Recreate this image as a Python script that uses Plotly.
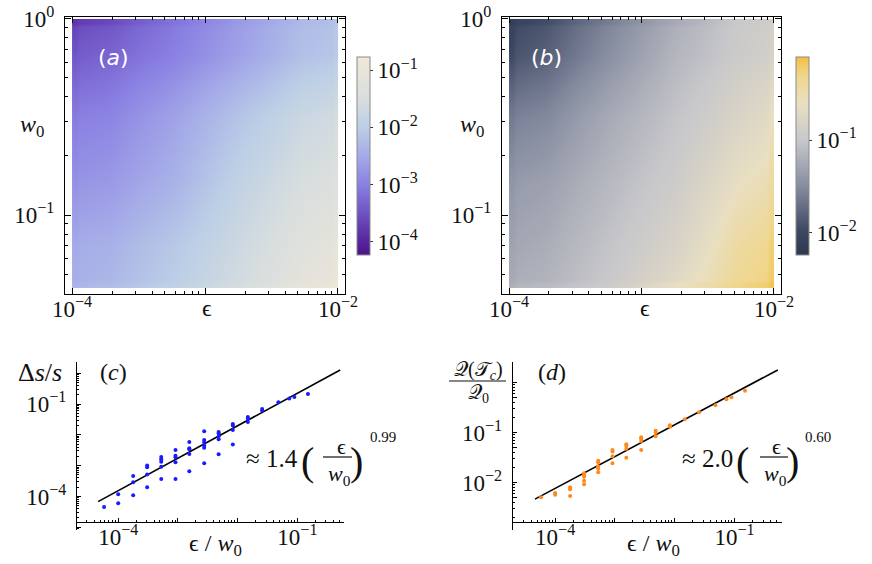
import numpy as np
import plotly.graph_objects as go

W, H = 872, 564
FONT = "Liberation Serif"

# ---------------- data ----------------
# heatmap grids (log10 units); cell edges, values at cell centres
eps_edges = [-4.0, -3.95, -3.5, -3.0, -2.5, -2.05, -2.0]     # log10(epsilon)
w0_edges = [-1.37, -1.33, -1.0, -0.67, -0.33, -0.04, 0.0]    # log10(w0)

# panel (a): log10(Delta s / s), rows from small w0 to large w0
z_a = [
    [-2.40, -2.25, -1.95, -1.55, -1.05, -0.80],
    [-2.50, -2.40, -2.10, -1.70, -1.25, -1.00],
    [-2.80, -2.70, -2.40, -1.90, -1.50, -1.30],
    [-3.05, -2.95, -2.60, -2.15, -1.75, -1.55],
    [-3.45, -3.30, -3.00, -2.60, -2.20, -2.05],
    [-3.85, -3.60, -3.15, -2.70, -2.30, -2.15],
]
# panel (b): log10(Q(Tc)/Q0)
z_b = [
    [-1.20, -1.12, -0.95, -0.62, -0.30, -0.15],
    [-1.30, -1.22, -1.03, -0.82, -0.42, -0.24],
    [-1.42, -1.33, -1.13, -0.93, -0.62, -0.42],
    [-1.62, -1.52, -1.25, -1.03, -0.80, -0.60],
    [-1.97, -1.80, -1.47, -1.15, -0.95, -0.82],
    [-2.12, -1.95, -1.60, -1.25, -0.98, -0.88],
]

# scatter panels: epsilon / w0 columns
ratio_cols = [5.8e-5, 1.0e-4, 1.78e-4, 3.05e-4, 5.25e-4, 9.1e-4, 1.55e-3, 2.75e-3,
              4.8e-3, 8.3e-3, 1.48e-2, 2.57e-2, 4.8e-2, 7.3e-2, 8.9e-2, 1.5e-1]
ds_s = [
    [4.5e-5],
    [1.17e-4, 6.0e-5],
    [4.6e-4, 2.9e-4, 1.1e-4],
    [1.02e-3, 8.9e-4, 5.2e-4, 2.0e-4],
    [1.9e-3, 1.62e-3, 1.35e-3, 9.3e-4, 3.7e-4],
    [3.2e-3, 2.1e-3, 1.86e-3, 1.29e-3, 3.7e-4],
    [5.9e-3, 3.7e-3, 3.4e-3, 2.4e-3, 6.6e-4],
    [1.32e-2, 6.8e-3, 5.75e-3, 4.5e-3, 3.8e-3, 1.2e-3],
    [1.23e-2, 1.12e-2, 9.1e-3, 7.2e-3, 2.34e-3],
    [2.24e-2, 2.0e-2, 1.45e-2, 4.9e-3],
    [3.8e-2, 3.4e-2, 2.6e-2],
    [6.9e-2, 6.2e-2],
    [0.115],
    [0.151],
    [0.17],
    [0.214],
]
q_ratio = [
    [5.1e-3],
    [6.2e-3, 5.75e-3],
    [8.1e-3, 7.4e-3, 5.4e-3],
    [1.55e-2, 1.41e-2, 1.32e-2, 1.1e-2, 9.3e-3],
    [2.75e-2, 2.57e-2, 2.14e-2, 1.9e-2, 1.62e-2],
    [4.5e-2, 4.2e-2, 3.4e-2, 2.45e-2],
    [5.9e-2, 5.5e-2, 4.8e-2, 3.16e-2],
    [8.1e-2, 7.6e-2, 6.8e-2, 4.5e-2],
    [0.11, 0.10, 0.085],
    [0.141, 0.132],
    [0.186],
    [0.257],
    [0.355],
    [0.468],
    [0.513],
    [0.69],
]
# fit lines (end points)
fit_c_x = [4.6e-5, 0.52]
fit_c_y = [6.8e-5, 1.28]
fit_d_x = [4.6e-5, 0.53]
fit_d_y = [4.7e-3, 1.8]

# ---------------- helpers ----------------
def px(x):
    return x / W


def py(y):
    return 1 - y / H


def sup(e):
    return "10<sup>%s</sup>" % (("\u2212%d" % -e) if e < 0 else str(e))


def flat(cols, vals):
    xs, ys = [], []
    for c, v in zip(cols, vals):
        for yy in v:
            xs.append(c)
            ys.append(yy)
    return xs, ys


cs_a = [
    [0.0, "#4a148a"], [0.066, "#57249c"], [0.211, "#6e52c4"], [0.355, "#8a80e2"],
    [0.5, "#a4aae8"], [0.645, "#bccfe6"], [0.789, "#d8dede"], [0.934, "#e8e4da"],
    [1.0, "#f0e8d8"],
]
cs_b = [
    [0.0, "#2e3850"], [0.111, "#3a4560"], [0.346, "#868ca0"], [0.581, "#c8c8cb"],
    [0.768, "#e9dfc2"], [0.909, "#f0d68a"], [1.0, "#f2c040"],
]

fig = go.Figure()

cb_common = dict(
    lenmode="pixels", len=198, thicknessmode="pixels", thickness=13,
    y=py(156), yanchor="middle", xanchor="left", xpad=0, ypad=0,
    outlinecolor="#8a8a8a", outlinewidth=1, ticks="outside", ticklen=3,
    tickcolor="#333", tickfont=dict(family=FONT, size=23, color="#111"),
)

fig.add_trace(go.Heatmap(
    x=eps_edges, y=w0_edges, z=z_a, zsmooth="best", colorscale=cs_a,
    zmin=-4.23, zmax=-0.77, xaxis="x", yaxis="y",
    colorbar=dict(x=px(357), tickvals=[-4, -3, -2, -1],
                  ticktext=[sup(e) for e in [-4, -3, -2, -1]], **cb_common),
    hoverinfo="skip",
))
fig.add_trace(go.Heatmap(
    x=eps_edges, y=w0_edges, z=z_b, zsmooth="best", colorscale=cs_b,
    zmin=-2.237, zmax=-0.107, xaxis="x2", yaxis="y2",
    colorbar=dict(x=px(796), tickvals=[-2, -1],
                  ticktext=[sup(e) for e in [-2, -1]], **cb_common),
    hoverinfo="skip",
))

xc, yc = flat(ratio_cols, ds_s)
xd, yd = flat(ratio_cols, q_ratio)
fig.add_trace(go.Scatter(x=fit_c_x, y=fit_c_y, mode="lines", xaxis="x3", yaxis="y3",
                         line=dict(color="black", width=1.6), showlegend=False))
fig.add_trace(go.Scatter(x=xc, y=yc, mode="markers", xaxis="x3", yaxis="y3",
                         marker=dict(color="#1a1aff", size=4), showlegend=False))
fig.add_trace(go.Scatter(x=fit_d_x, y=fit_d_y, mode="lines", xaxis="x4", yaxis="y4",
                         line=dict(color="black", width=1.6), showlegend=False))
fig.add_trace(go.Scatter(x=xd, y=yd, mode="markers", xaxis="x4", yaxis="y4",
                         marker=dict(color="#ff8a1a", size=4), showlegend=False))

# ---------------- axes ----------------
tickfont = dict(family=FONT, size=23, color="#111")
minor_x_top = [np.log10(k) + n for n in (-4, -3) for k in range(2, 10)]
minor_y_top = [np.log10(k) - 2 for k in range(4, 10)] + [np.log10(k) - 1 for k in range(2, 10)]

frame_x = dict(
    range=[-4.053, -1.947], showline=True, linecolor="black", linewidth=1.2, mirror="allticks",
    ticks="inside", ticklen=6, tickwidth=1, tickcolor="black",
    tickmode="array", tickvals=[-4, -3, -2], ticktext=[sup(-4), "", sup(-2)],
    minor=dict(tickmode="array", tickvals=minor_x_top, ticks="inside", ticklen=3,
               tickcolor="black", tickwidth=1),
    showgrid=False, zeroline=False, tickfont=tickfont, automargin=False,
    ticklabelstandoff=-6,
)
frame_y = dict(
    range=[-1.403, 0.010], showline=True, linecolor="black", linewidth=1.2, mirror="allticks",
    ticks="inside", ticklen=6, tickwidth=1, tickcolor="black",
    tickmode="array", tickvals=[-1, 0], ticktext=[sup(-1), sup(0)],
    minor=dict(tickmode="array", tickvals=minor_y_top, ticks="inside", ticklen=3,
               tickcolor="black", tickwidth=1),
    showgrid=False, zeroline=False, tickfont=tickfont, ticklabelstandoff=5, automargin=False,
)

dec_x = [10.0 ** n for n in range(-5, 0)]
minor_x_bot = [k * 10.0 ** n for n in range(-5, 0) for k in range(2, 10)]
dec_yc = [10.0 ** n for n in range(-5, 1)]
minor_yc = [k * 10.0 ** n for n in range(-6, 0) for k in range(2, 10)]
maj_yd = [5e-3, 1e-2, 5e-2, 1e-1, 5e-1, 1.0]
minor_yd = [k * 10.0 ** n for n in range(-3, 0) for k in (2, 3, 4, 6, 7, 8, 9)]


def bot_x(domain, rng):
    return dict(
        type="log", domain=domain, range=rng, anchor="free", position=py(522),
        showline=True, linecolor="black", linewidth=1.2, ticks="inside", ticklen=4,
        tickcolor="black", tickmode="array", tickvals=dec_x,
        ticktext=["" if v not in (1e-4, 1e-1) else sup(int(round(np.log10(v)))) for v in dec_x],
        minor=dict(tickmode="array", tickvals=minor_x_bot, ticks="inside", ticklen=2,
                   tickcolor="black"),
        showgrid=False, zeroline=False, tickfont=tickfont, automargin=False,
        ticklabelstandoff=-6,
    )


def bot_y(anchor, rng, maj, lab, mins):
    return dict(
        type="log", domain=[py(530), py(362)], range=rng, anchor=anchor,
        showline=True, linecolor="black", linewidth=1.2, ticks="inside", ticklen=4,
        tickcolor="black", tickmode="array", tickvals=maj,
        ticktext=[sup(int(round(np.log10(v)))) if v in lab else "" for v in maj],
        minor=dict(tickmode="array", tickvals=mins, ticks="inside", ticklen=2,
                   tickcolor="black"),
        showgrid=False, zeroline=False, tickfont=tickfont, ticklabelstandoff=5,
        automargin=False,
    )


fig.update_layout(
    width=W, height=H, margin=dict(l=0, r=0, t=0, b=0, autoexpand=False),
    paper_bgcolor="white", plot_bgcolor="white", showlegend=False,
    font=dict(family=FONT),
    xaxis=dict(domain=[px(65), px(345)], anchor="y", **frame_x),
    yaxis=dict(domain=[py(294), py(17)], anchor="x", **frame_y),
    xaxis2=dict(domain=[px(502), px(781)], anchor="y2", **frame_x),
    yaxis2=dict(domain=[py(294), py(17)], anchor="x2", **frame_y),
    xaxis3=bot_x([px(77), px(344)], [-4.69, -0.22]),
    yaxis3=bot_y("x3", [-5.09, 0.367], dec_yc, (1e-1, 1e-4), minor_yc),
    xaxis4=bot_x([px(512.7), px(781.7)], [-4.71, -0.21]),
    yaxis4=bot_y("x4", [-2.946, 0.414], maj_yd, (1e-2, 1e-1), minor_yd),
)

# ---------------- text ----------------
ann = []
shapes = []


def text(x, y, s, size=20, color="#111", xanchor="center", family=FONT):
    ann.append(dict(x=px(x), y=py(y), xref="paper", yref="paper", text=s, showarrow=False,
                    xanchor=xanchor, yanchor="middle",
                    font=dict(family=family, size=size, color=color)))


def hbar(x0, x1, y):
    shapes.append(dict(type="line", xref="paper", yref="paper", x0=px(x0), x1=px(x1),
                       y0=py(y), y1=py(y), line=dict(color="#111", width=1.2)))


EPS = "\u03f5"
W0 = "<i>w</i><sub>0</sub>"

# top panels
text(32, 126, W0, size=24)
text(472, 126, W0, size=24)
text(207, 308, EPS, size=24)
text(645, 308, EPS, size=24)
text(113, 57, "(<i>a</i>)", size=22, color="white", family="DejaVu Sans")
text(546, 57, "(<i>b</i>)", size=22, color="white", family="DejaVu Sans")

# panel c
text(40, 372, "\u0394<i>s</i>/<i>s</i>", size=26)
text(113, 372, "(<i>c</i>)", size=24)
text(215, 545, EPS + " / " + W0, size=24)
text(300, 458, "\u2248 1.4", size=25, xanchor="right")
text(307, 461, "(", size=40)
text(341, 446, EPS, size=22)
hbar(323, 352, 457)
text(339, 475, W0, size=22)
text(356, 461, ")", size=40)
text(383, 437, "0.99", size=15)

# panel d
text(478, 370, "\U0001D4AC(\U0001D4AF<sub><i>c</i></sub>)", size=20)
hbar(449, 506, 381)
text(478, 393, "\U0001D4AC<sub>0</sub>", size=20)
text(552, 372, "(<i>d</i>)", size=24)
text(653, 545, EPS + " / " + W0, size=24)
text(735, 458, "\u2248 2.0", size=25, xanchor="right")
text(742, 461, "(", size=40)
text(776, 446, EPS, size=22)
hbar(760, 788, 457)
text(775, 475, W0, size=22)
text(792, 461, ")", size=40)
text(818, 437, "0.60", size=15)

fig.update_layout(annotations=ann, shapes=shapes)
fig.write_html("out.html")
